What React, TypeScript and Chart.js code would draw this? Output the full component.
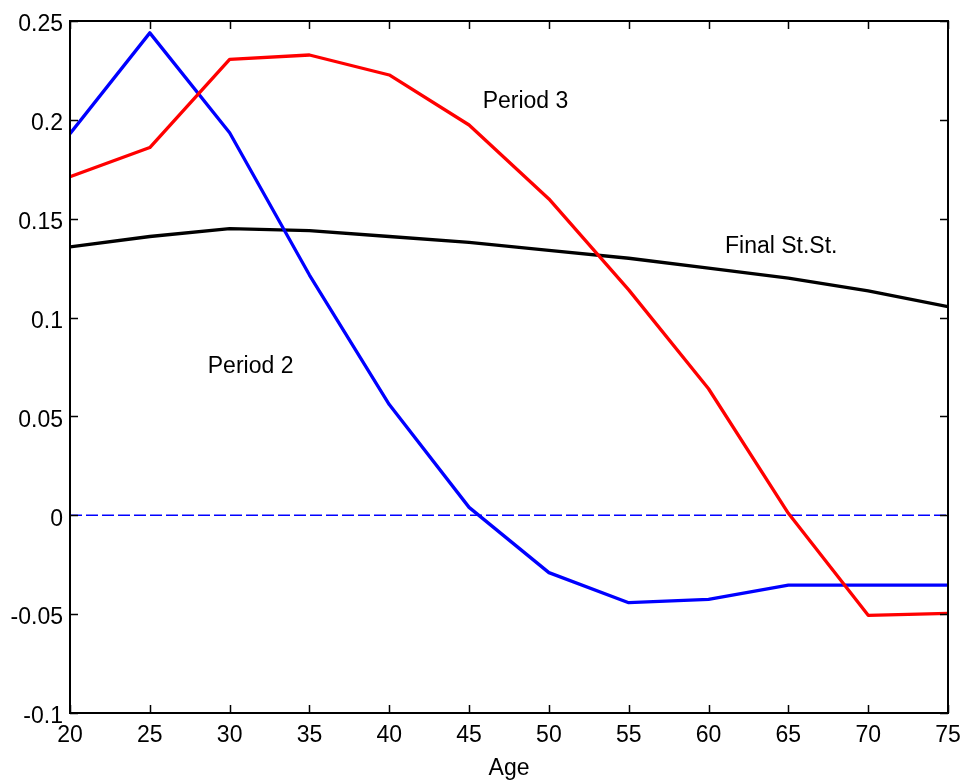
import React, { useEffect, useRef } from "react";
import { Chart, registerables } from "chart.js";

Chart.register(...registerables);

// ---- data ----
const ages = [20, 25, 30, 35, 40, 45, 50, 55, 60, 65, 70, 75];
const period2 = [0.193, 0.244, 0.1935, 0.1215, 0.056, 0.004, -0.029, -0.0442, -0.0425, -0.0353, -0.0353, -0.0353];
const period3 = [0.1712, 0.186, 0.2306, 0.2328, 0.2227, 0.1974, 0.160, 0.114, 0.064, 0.001, -0.0506, -0.0496];
const finalSS = [0.1357, 0.141, 0.145, 0.144, 0.141, 0.138, 0.134, 0.130, 0.125, 0.120, 0.1135, 0.1055];
const zeroX = [20, 75];
const zeroY = [0, 0];

const xMin = 20;
const xMax = 75;
const xStep = 5;
const yMin = -0.1;
const yMax = 0.25;
const yStep = 0.05;

const labelTexts = ["Period 3", "Period 2", "Final St.St."];
const labelX = [45.85, 28.63, 61.03];
const labelY = [0.2093, 0.0753, 0.136];

const xTitle = "Age";

const FONT = '"Liberation Sans", Arial, Helvetica, sans-serif';

const toPoints = (xs: number[], ys: number[]) => xs.map((x, i) => ({ x, y: ys[i] }));

const boxPlugin = {
  id: "matlabBox",
  afterDraw(chart: any) {
    const { ctx, chartArea } = chart;
    const { left, right, top, bottom } = chartArea;
    const xs = chart.scales.x;
    const ys = chart.scales.y;
    ctx.save();
    ctx.strokeStyle = "#000";
    ctx.lineWidth = 1.5;
    const tl = 8;
    ctx.beginPath();
    xs.ticks.forEach((t: any) => {
      const px = Math.round(xs.getPixelForValue(t.value)) + 0.5;
      ctx.moveTo(px, bottom);
      ctx.lineTo(px, bottom - tl);
      ctx.moveTo(px, top);
      ctx.lineTo(px, top + tl);
    });
    ys.ticks.forEach((t: any) => {
      const py = Math.round(ys.getPixelForValue(t.value)) + 0.5;
      ctx.moveTo(left, py);
      ctx.lineTo(left + tl, py);
      ctx.moveTo(right, py);
      ctx.lineTo(right - tl, py);
    });
    ctx.stroke();
    ctx.lineWidth = 2;
    ctx.strokeRect(left, top, right - left, bottom - top);
    ctx.fillStyle = "#000";
    ctx.font = `23px ${FONT}`;
    ctx.textAlign = "left";
    ctx.textBaseline = "middle";
    labelTexts.forEach((txt, i) => {
      ctx.fillText(txt, xs.getPixelForValue(labelX[i]), ys.getPixelForValue(labelY[i]));
    });
    ctx.restore();
  },
};

export default function App() {
  const canvasRef = useRef<HTMLCanvasElement | null>(null);

  useEffect(() => {
    if (!canvasRef.current) return;
    const chart = new Chart(canvasRef.current, {
      type: "line",
      data: {
        datasets: [
          {
            label: "zero",
            data: toPoints(zeroX, zeroY),
            borderColor: "#0000ff",
            borderWidth: 1.6,
            borderDash: [12, 4],
            pointRadius: 0,
            order: 4,
          },
          {
            label: "Final St.St.",
            data: toPoints(ages, finalSS),
            borderColor: "#000000",
            borderWidth: 3.3,
            pointRadius: 0,
            order: 3,
          },
          {
            label: "Period 3",
            data: toPoints(ages, period3),
            borderColor: "#ff0000",
            borderWidth: 3.3,
            pointRadius: 0,
            order: 1,
          },
          {
            label: "Period 2",
            data: toPoints(ages, period2),
            borderColor: "#0000ff",
            borderWidth: 3.3,
            pointRadius: 0,
            order: 2,
          },
        ],
      },
      options: {
        animation: false,
        responsive: true,
        maintainAspectRatio: false,
        layout: { padding: { top: 21, right: 14, left: 0, bottom: 0 } },
        plugins: {
          legend: { display: false },
          tooltip: { enabled: false },
        },
        elements: { line: { tension: 0, borderJoinStyle: "round" as any, borderCapStyle: "butt" as any } },
        scales: {
          x: {
            type: "linear",
            min: xMin,
            max: xMax,
            grid: { display: false, drawTicks: false },
            border: { display: false },
            ticks: {
              stepSize: xStep,
              padding: 9,
              color: "#000",
              font: { family: FONT, size: 23 },
              maxRotation: 0,
              autoSkip: false,
            },
            title: {
              display: true,
              text: xTitle,
              color: "#000",
              font: { family: FONT, size: 23 },
              padding: { top: 0, bottom: 0 },
            },
            afterFit(scale: any) {
              scale.height = 69;
              scale.paddingLeft = 0;
              scale.paddingRight = 0;
            },
          },
          y: {
            type: "linear",
            min: yMin,
            max: yMax,
            grid: { display: false, drawTicks: false },
            border: { display: false },
            ticks: {
              stepSize: yStep,
              padding: 7,
              labelOffset: 4,
              color: "#000",
              font: { family: FONT, size: 23 },
              autoSkip: false,
              callback: (v: any) => String(Number(Number(v).toFixed(2))),
            },
            afterFit(scale: any) {
              scale.width = 70;
              scale.paddingTop = 0;
              scale.paddingBottom = 0;
            },
          },
        },
      },
      plugins: [boxPlugin],
    });
    return () => chart.destroy();
  }, []);

  return (
    <div style={{ position: "fixed", left: 0, top: 0, width: 962, height: 782, background: "#fff" }}>
      <canvas ref={canvasRef} />
    </div>
  );
}
